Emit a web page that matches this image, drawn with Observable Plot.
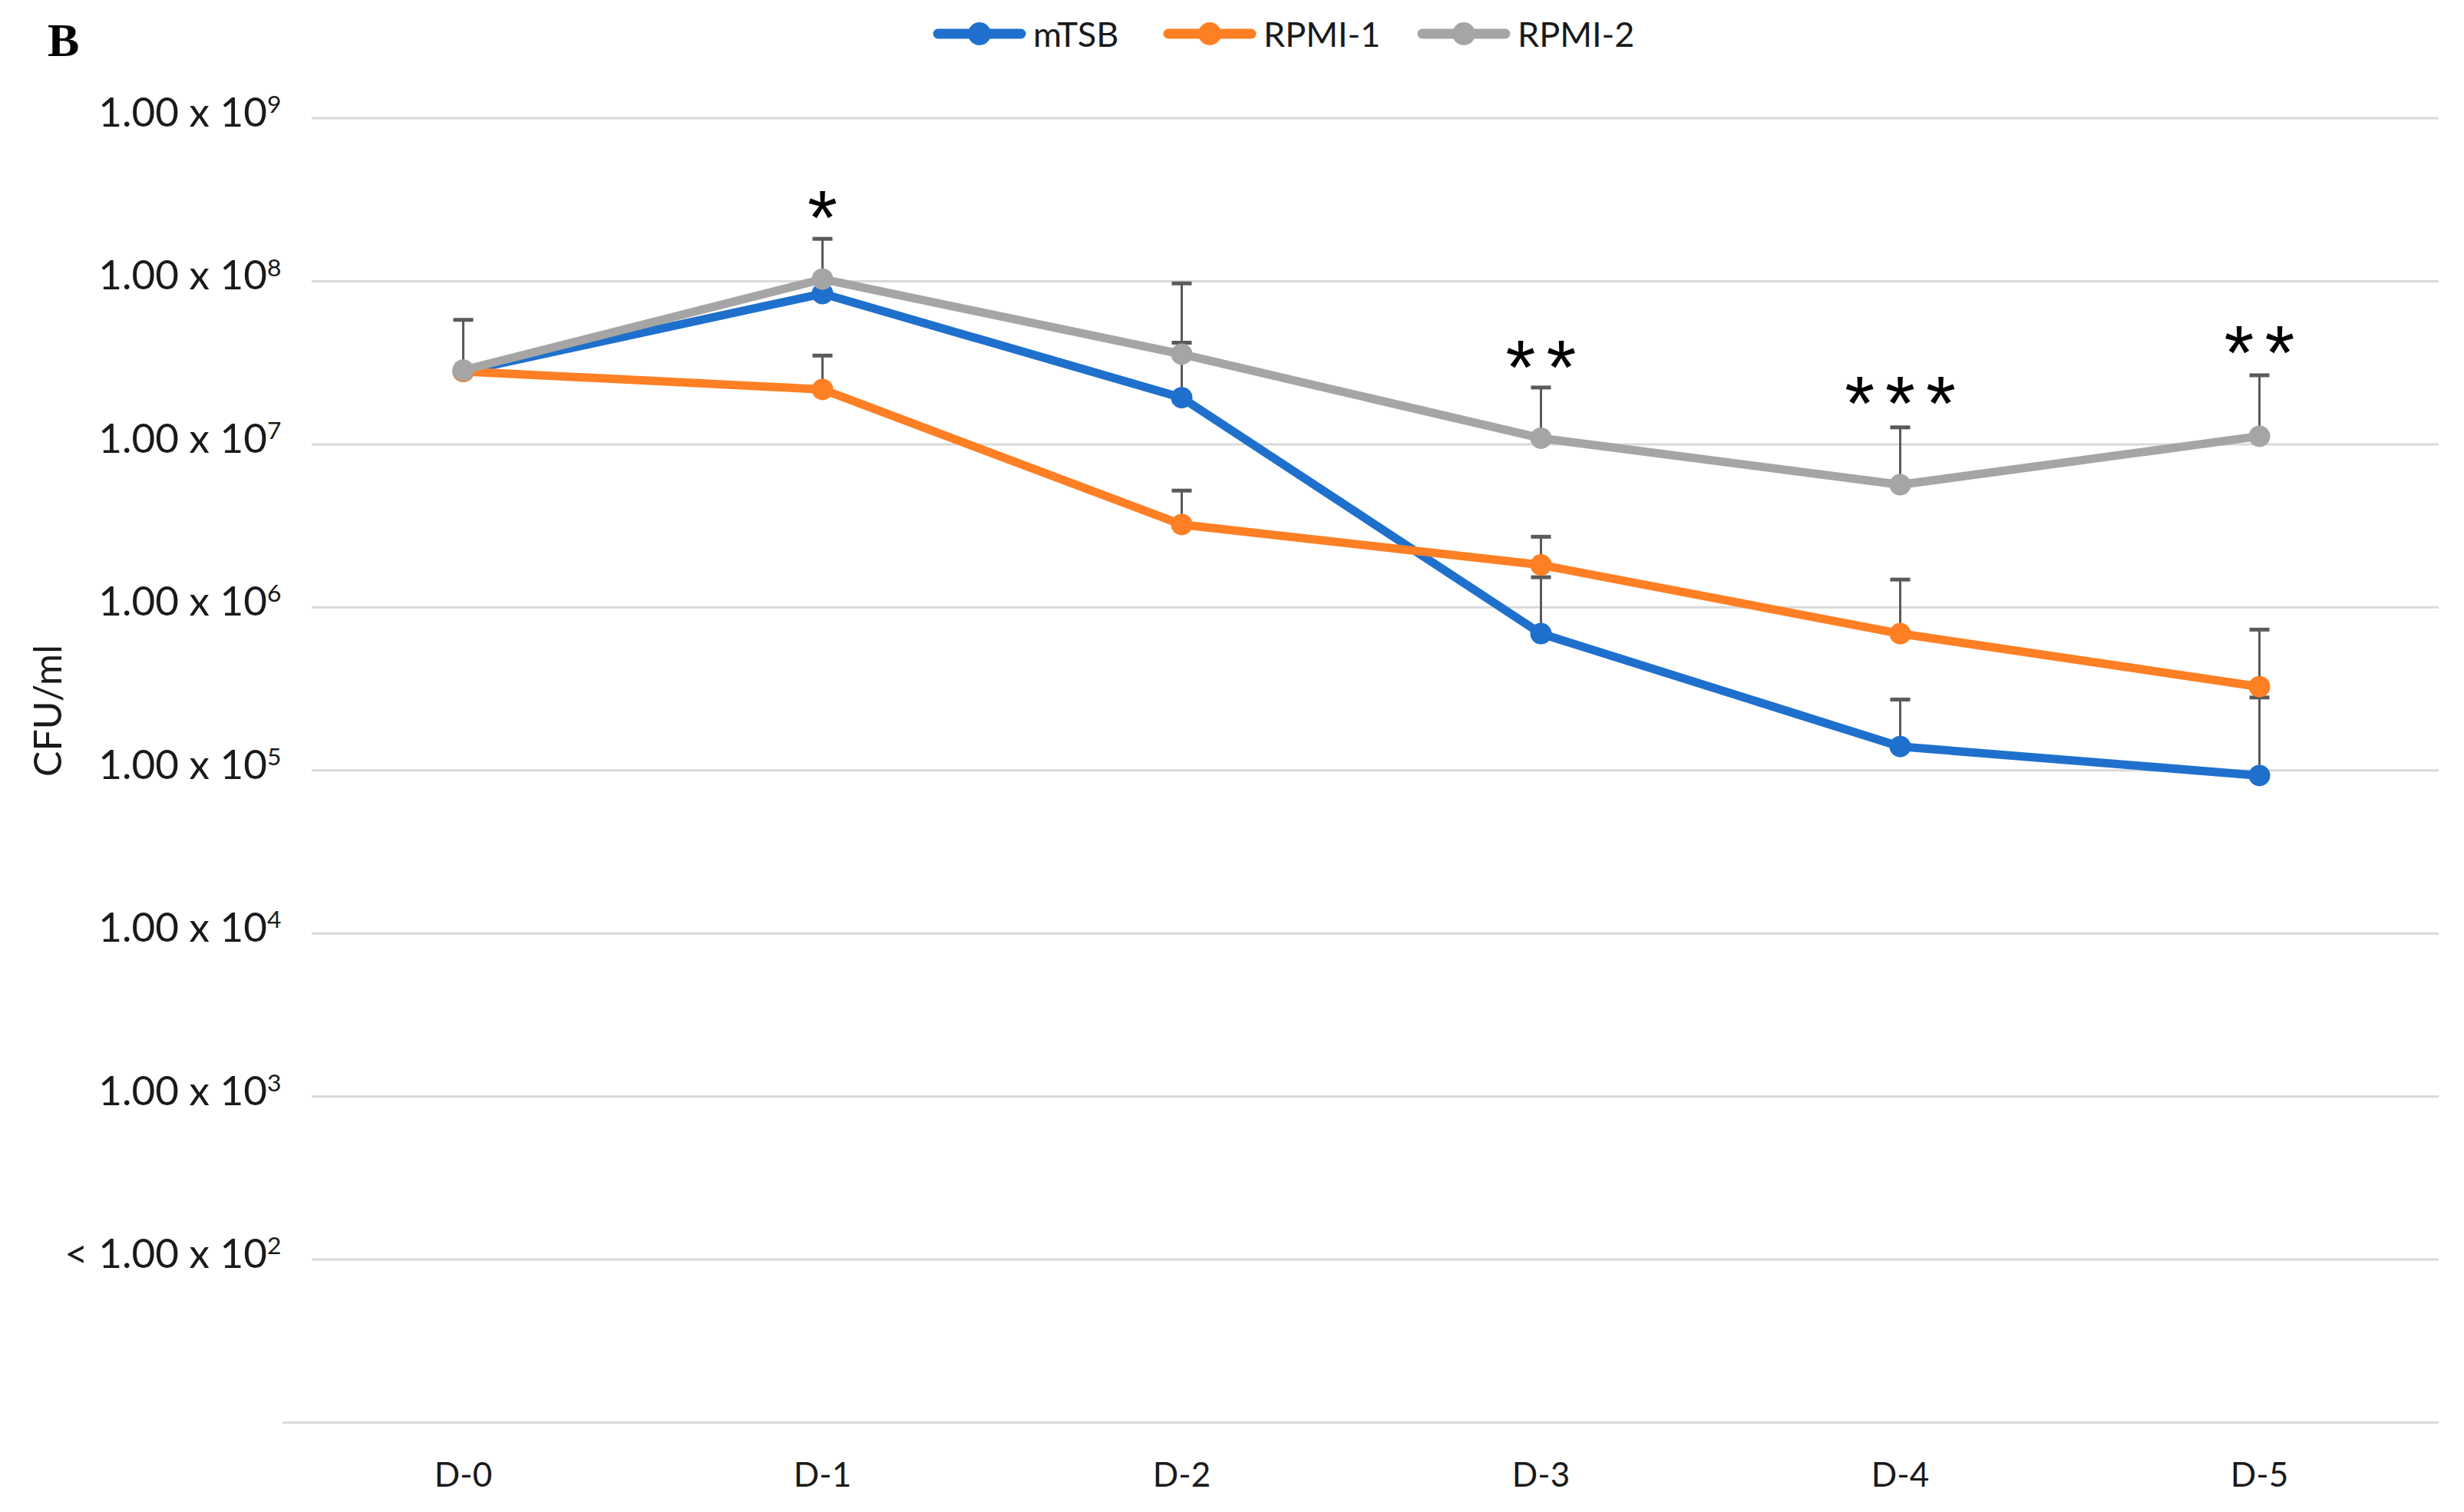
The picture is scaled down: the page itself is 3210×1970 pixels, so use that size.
<!DOCTYPE html>
<html><head><meta charset="utf-8">
<script src="https://cdn.jsdelivr.net/npm/d3@7"></script>
<script src="https://cdn.jsdelivr.net/npm/@observablehq/plot@0.6"></script>
<style>
body{margin:0;background:#fff;font-family:Lato,sans-serif;}
#wrap{position:relative;width:3210px;height:1970px;overflow:hidden;}
#legend{position:relative;height:90px;}
.item{position:absolute;top:22px;height:44px;display:flex;align-items:center;font-size:45px;color:#1a1a1a;font-family:Lato,sans-serif;}
.item svg{margin-right:9px;}
#panel{position:absolute;left:62px;top:21px;font-family:"Liberation Serif",serif;font-weight:bold;font-size:62px;line-height:62px;color:#000;}
#ytitle{position:absolute;left:61px;top:926px;transform:translate(-50%,-50%) rotate(-90deg);font-size:50px;color:#1a1a1a;white-space:nowrap;}
</style></head><body>
<div id="wrap">
  <div id="legend"></div>
  <div id="chart"></div>
  <div id="panel">B</div>
  <div id="ytitle">CFU/ml</div>
</div>
<script>
// ---- data ----
const days = ["D-0", "D-1", "D-2", "D-3", "D-4", "D-5"];
const seriesNames = ["mTSB", "RPMI-1", "RPMI-2"];
const seriesColors = ["#1f70cd", "#ff7f24", "#a5a5a5"];
const mTSB = [2.8e7, 8.4e7, 1.93e7, 6.9e5, 1.40e5, 9.3e4];
const rpmi1 = [2.8e7, 2.17e7, 3.22e6, 1.82e6, 6.9e5, 3.26e5];
const rpmi2 = [2.85e7, 1.03e8, 3.57e7, 1.09e7, 5.65e6, 1.12e7];
const mTSBUpper = [null, null, 4.2e7, 1.53e6, 2.72e5, 2.8e5];
const rpmi1Upper = [null, 3.5e7, 5.2e6, 2.71e6, 1.48e6, 7.3e5];
const rpmi2Upper = [5.8e7, 1.82e8, 9.7e7, 2.23e7, 1.27e7, 2.65e7];
const yTickValues = [1e2, 1e3, 1e4, 1e5, 1e6, 1e7, 1e8, 1e9];
const yTickLabels = ["< 1.00 x 10|2", "1.00 x 10|3", "1.00 x 10|4", "1.00 x 10|5", "1.00 x 10|6", "1.00 x 10|7", "1.00 x 10|8", "1.00 x 10|9"];
const axisFloor = [10];
const sigDays = ["D-1", "D-3", "D-4", "D-5"];
const sigLabels = ["*", "**", "***", "**"];
const sigY = [3.12e8, 3.8e7, 2.28e7, 4.63e7];

// ---- tables ----
const seriesValues = [mTSB, rpmi1, rpmi2];
const seriesUpper = [mTSBUpper, rpmi1Upper, rpmi2Upper];
const rows = seriesNames.flatMap((s, k) => days.map((d, i) => ({series: s, day: d, value: seriesValues[k][i], hi: seriesUpper[k][i]})));
const errRows = rows.filter(r => r.hi != null);
const sigRows = sigDays.map((d, i) => ({day: d, label: sigLabels[i], y: sigY[i]}));

const capSymbol = {draw(ctx) { ctx.moveTo(-13, 0); ctx.lineTo(13, 0); }};

const seriesMarks = seriesNames.flatMap((s, k) => {
  const data = rows.filter(r => r.series === s);
  return [
    Plot.line(data, {x: "day", y: "value", stroke: seriesColors[k], strokeWidth: 11, strokeLinejoin: "round", strokeLinecap: "round"}),
    Plot.dot(data, {x: "day", y: "value", r: 14, fill: seriesColors[k], stroke: "none"})
  ];
});

const chart = Plot.plot({
  width: 3210,
  height: 1880,
  marginTop: 63.5,
  marginBottom: 117,
  marginLeft: 368,
  marginRight: 33,
  style: {fontFamily: "Lato, sans-serif", background: "white", color: "#1a1a1a"},
  x: {type: "point", domain: days, padding: 0.5, label: null},
  y: {type: "log", domain: [10, 1e9], label: null},
  marks: [
    Plot.ruleY(yTickValues, {y: d => d, stroke: "#d9d9d9", strokeWidth: 3, insetLeft: 38}),
    Plot.ruleY(axisFloor, {y: d => d, stroke: "#d9d9d9", strokeWidth: 3}),
    Plot.axisY({ticks: yTickValues, tickFormat: v => yTickLabels[yTickValues.indexOf(v)], tickSize: 0, tickPadding: 2, fontSize: 53, dy: -6, label: null}),
    Plot.axisX({tickSize: 0, tickPadding: 52, fontSize: 44, label: null}),
    Plot.ruleX(errRows, {x: "day", y1: "value", y2: "hi", stroke: "#5a5a5a", strokeWidth: 3}),
    Plot.dot(errRows, {x: "day", y: "hi", symbol: capSymbol, stroke: "#5a5a5a", strokeWidth: 5, fill: "none"}),
    ...seriesMarks,
    Plot.text(sigRows, {x: "day", y: "y", text: "label", fontSize: 100, fontFamily: "Liberation Sans", fill: "#000", lineAnchor: "middle", dy: 25, dx: 7, className: "sig"})
  ]
});

// wider spacing between significance asterisks
chart.querySelectorAll(".sig text").forEach(t => t.setAttribute("letter-spacing", "14"));

// superscripts for y tick labels
chart.querySelectorAll('[aria-label="y-axis tick label"] text').forEach(t => {
  const s = t.textContent;
  if (!s.includes("|")) return;
  const [base, exp] = s.split("|");
  t.textContent = "";
  const a = document.createElementNS("http://www.w3.org/2000/svg", "tspan");
  a.textContent = base;
  const b = document.createElementNS("http://www.w3.org/2000/svg", "tspan");
  b.textContent = exp;
  b.setAttribute("font-size", "0.6em");
  b.setAttribute("dy", "-0.56em");
  t.appendChild(a); t.appendChild(b);
});
document.getElementById("chart").appendChild(chart);

// legend
const legend = document.getElementById("legend");
const legendLeft = [1215, 1515, 1846];
seriesNames.forEach((s, k) => {
  const item = document.createElement("div");
  item.className = "item";
  item.style.left = legendLeft[k] + "px";
  item.innerHTML = `<svg width="122" height="40"><line x1="7" y1="20" x2="115" y2="20" stroke="${seriesColors[k]}" stroke-width="13" stroke-linecap="round"/><circle cx="61" cy="20" r="15" fill="${seriesColors[k]}"/></svg><span>${s}</span>`;
  legend.appendChild(item);
});
</script>
</body></html>
